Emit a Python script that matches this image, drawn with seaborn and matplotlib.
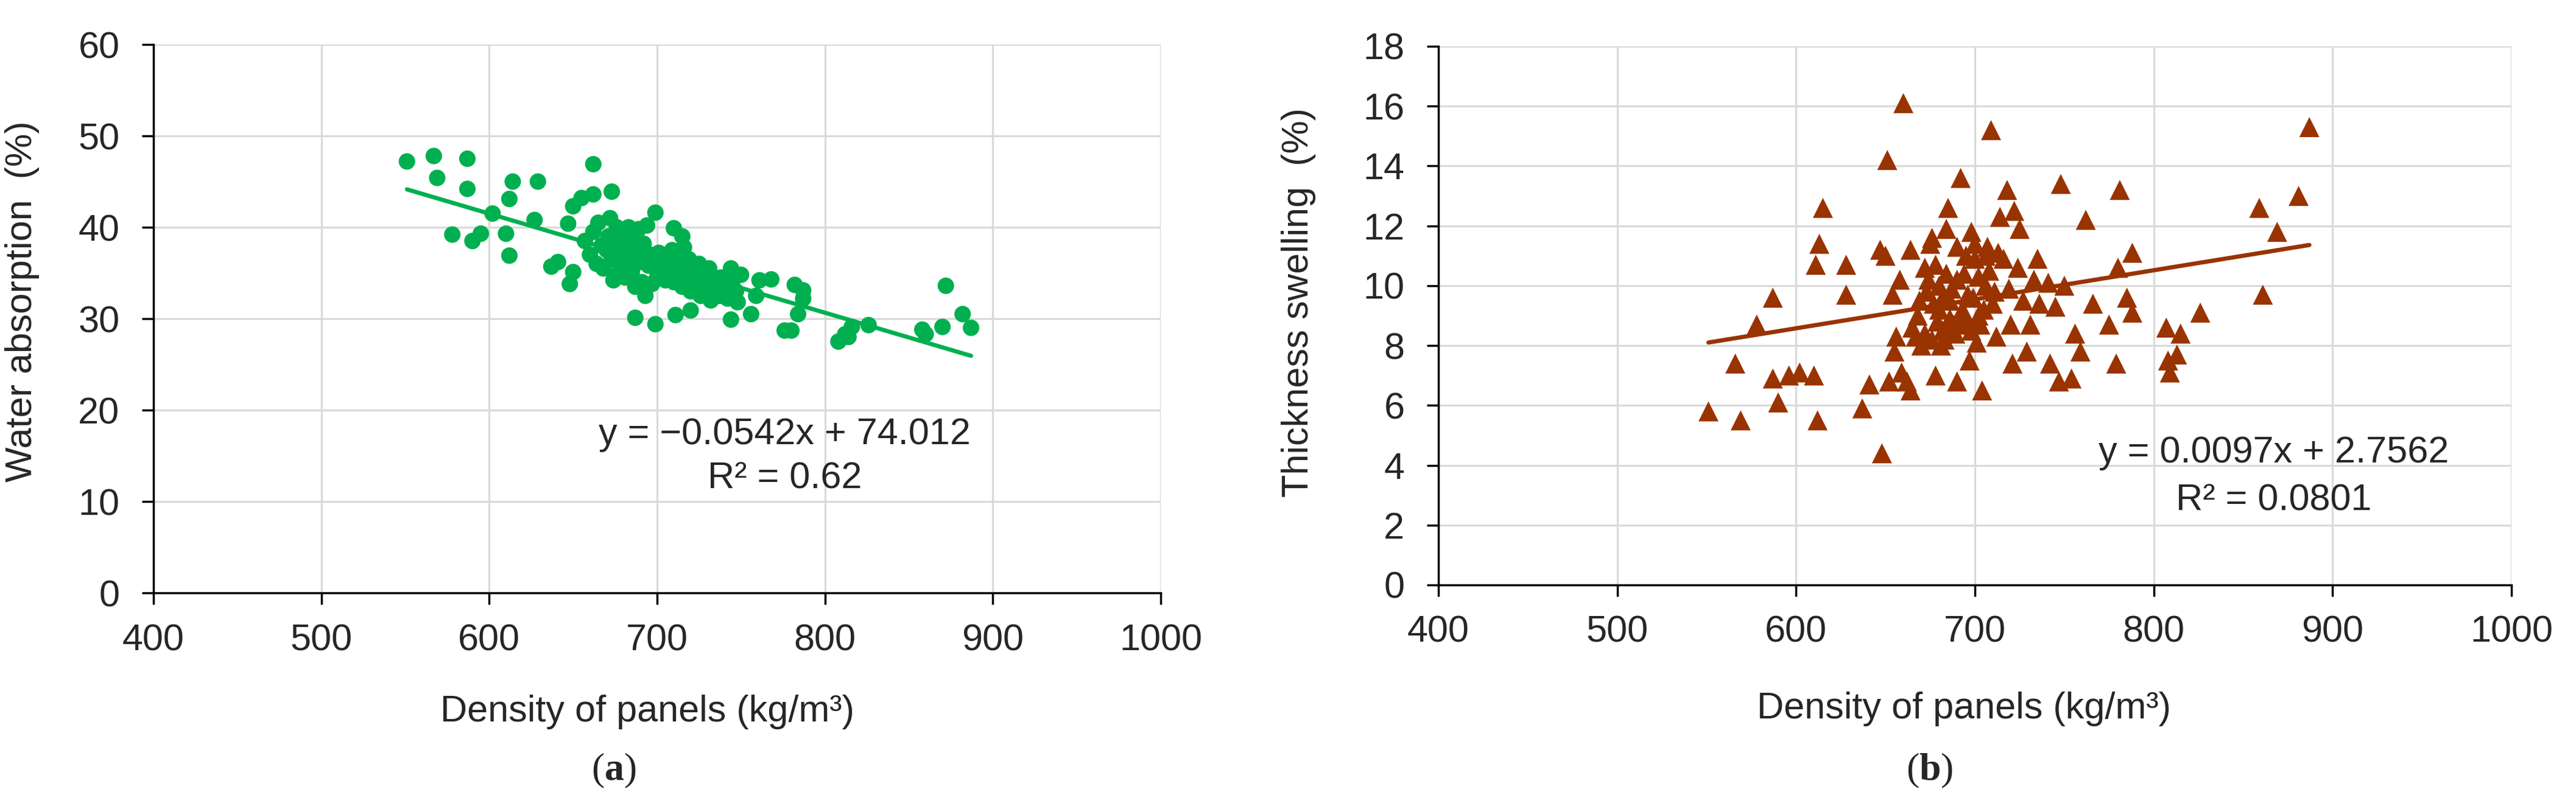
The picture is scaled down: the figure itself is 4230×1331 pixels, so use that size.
import numpy as np
import pandas as pd
import matplotlib
matplotlib.use("Agg")
import matplotlib.pyplot as plt
import seaborn as sns

# ---------------- data ----------------
wa_density = [551, 567, 569, 587, 587, 578, 590, 595, 602, 610, 612, 614, 612, 629, 627,
              637, 641, 648, 647, 650, 655, 650, 662, 662, 673, 687, 699, 699, 711, 710,
              715, 720, 744, 756, 759, 768, 761, 776, 780, 782, 787, 784, 787, 808, 812,
              814, 816, 826, 858, 860, 870, 872, 882, 887,
              657, 660, 662, 664, 665, 667, 668, 670, 671, 672, 673, 674, 675, 676, 677,
              678, 679, 680, 681, 682, 683, 684, 685, 686, 687, 688, 689, 690, 691, 692,
              693, 694, 695, 696, 697, 698, 700, 701, 702, 703, 705, 706, 708, 709, 710,
              712, 713, 715, 716, 718, 719, 720, 722, 723, 725, 726, 728, 729, 731, 732,
              734, 735, 737, 738, 740, 742, 744, 745, 747, 748, 750]
wa_value = [47.2, 47.8, 45.4, 47.5, 44.2, 39.2, 38.5, 39.3, 41.5, 39.3, 43.1, 45.0, 36.9, 45.0, 40.8,
            35.7, 36.2, 33.8, 40.4, 42.3, 43.2, 35.1, 46.9, 43.6, 43.9, 30.1, 29.4, 41.6, 30.4, 39.9,
            39.0, 30.9, 29.9, 30.5, 32.5, 34.3, 34.2, 28.7, 28.7, 33.7, 33.1, 30.5, 32.2, 27.5, 28.3,
            28.0, 29.1, 29.3, 28.8, 28.3, 29.1, 33.6, 30.5, 29.0,
            38.5, 37.0, 39.5, 36.0, 40.5, 38.0, 35.5, 37.5, 39.0, 41.0, 36.5, 34.2, 38.5, 40.0, 35.0,
            37.2, 39.5, 36.0, 34.5, 38.0, 40.0, 36.8, 35.2, 38.8, 33.5, 37.5, 39.8, 36.2, 34.0, 38.2,
            32.5, 40.2, 35.8, 37.0, 33.8, 36.5, 34.5, 37.2, 35.5, 36.8, 34.2, 36.0, 35.0, 37.5, 34.0,
            36.2, 35.2, 33.5, 37.8, 34.8, 36.5, 33.0, 35.5, 34.0, 36.0, 32.5, 34.8, 33.2, 35.5, 32.0,
            34.2, 33.0, 32.5, 34.5, 33.5, 32.2, 35.5, 34.2, 33.0, 31.8, 34.8]

ts_density = [551, 569, 566, 578, 587, 587, 590, 596, 602, 610, 612, 611, 613, 615, 628,
              628, 637, 641, 648, 647, 650, 651, 652, 654, 658, 655, 656, 660, 659, 662,
              664, 664, 667, 669, 672, 675, 676, 678, 678, 680, 681, 682, 684, 685, 686,
              688, 690, 690, 692, 693, 694, 696, 697, 698, 698, 700, 701, 702, 704, 706,
              707, 709, 710, 712, 714, 716, 718, 719, 720, 721, 722, 724, 725, 727, 729,
              731, 733, 735, 736, 741, 742, 745, 747, 748, 750, 754, 756, 759, 762, 766,
              775, 779, 780, 781, 785, 788, 788, 807, 808, 809, 813, 815, 826, 859, 861,
              869, 881, 887,
              665, 668, 670, 672, 673, 674, 676, 677, 679, 680, 682, 683, 684, 686, 687,
              689, 690, 692, 694, 695, 697, 699, 700, 702, 703, 705, 706, 708, 711, 713]
ts_value = [5.8, 5.5, 7.4, 8.7, 9.6, 6.9, 6.1, 7.0, 7.1, 7.0, 5.5, 10.7, 11.4, 12.6, 10.7,
            9.7, 5.9, 6.7, 4.4, 11.2, 11.0, 14.2, 6.8, 9.7, 10.2, 7.8, 8.3, 16.1, 7.1, 6.8,
            6.5, 11.2, 8.3, 9.5, 10.6, 11.4, 11.6, 7.0, 10.7, 9.2, 8.0, 8.5, 11.9, 12.6, 9.5,
            8.7, 6.8, 11.3, 13.6, 9.2, 10.4, 9.7, 7.5, 8.5, 11.8, 10.9, 8.1, 9.0, 6.5, 10.0,
            11.3, 15.2, 9.4, 8.3, 12.3, 10.9, 13.2, 9.9, 8.7, 7.4, 12.5, 10.6, 11.9, 9.5, 7.8,
            8.7, 10.2, 10.9, 9.4, 10.1, 7.4, 9.3, 6.8, 13.4, 10.0, 6.9, 8.4, 7.8, 12.2, 9.4,
            8.7, 7.4, 10.6, 13.2, 9.6, 9.1, 11.1, 8.6, 7.5, 7.1, 7.7, 8.4, 9.1, 12.6, 9.7,
            11.8, 13.0, 15.3,
            8.6, 9.0, 8.0, 8.4, 9.8, 10.2, 8.2, 9.4, 8.8, 10.0, 9.6, 8.2, 10.4, 8.9, 9.9,
            8.4, 10.2, 8.8, 9.0, 11.0, 8.7, 9.6, 11.4, 10.3, 8.7, 9.2, 11.0, 10.5, 9.8, 11.1]

wa_fit = [-0.0542, 74.012]   # slope, intercept
ts_fit = [0.0097, 2.7562]
wa_eq = ["y = \u22120.0542x + 74.012", "R\u00b2 = 0.62"]
ts_eq = ["y = 0.0097x + 2.7562", "R\u00b2 = 0.0801"]
x_ticks = [400, 500, 600, 700, 800, 900, 1000]
wa_ticks = [0, 10, 20, 30, 40, 50, 60]
ts_ticks = [0, 2, 4, 6, 8, 10, 12, 14, 16, 18]

GREEN = "#00B050"
BROWN = "#993300"

sns.set_theme(style="white")
plt.rcParams["font.family"] = ["Liberation Sans", "DejaVu Sans"]
plt.rcParams["mathtext.fontset"] = "custom"
plt.rcParams["mathtext.rm"] = "Liberation Serif"
plt.rcParams["mathtext.bf"] = "Liberation Serif:bold"

W, H = 4230, 1331
fig = plt.figure(figsize=(W / 100, H / 100), dpi=100)
fig.patch.set_facecolor("white")


def px_axes(x0, x1, y0, y1):
    return fig.add_axes([x0 / W, 1 - y1 / H, (x1 - x0) / W, (y1 - y0) / H])


ax1 = px_axes(252, 1906, 73, 973)
ax2 = px_axes(2362, 4124, 76, 960)

FS = 44


def style(ax, yticks, ylabel, ylc):
    ax.set_xlim(400, 1000)
    ax.set_ylim(yticks[0], yticks[-1])
    ax.set_xticks(x_ticks)
    ax.set_yticks(yticks)
    ax.grid(True, color="#D9D9D9", linewidth=2.2)
    ax.set_axisbelow(True)
    for s in ["top", "right"]:
        ax.spines[s].set_visible(False)
    for s in ["left", "bottom"]:
        ax.spines[s].set_color("black")
        ax.spines[s].set_linewidth(2.5)
    ax.tick_params(axis="both", which="major", direction="out", length=14,
                   width=2.5, color="black", labelsize=FS, left=True, bottom=True)
    ax.tick_params(axis="y", pad=26)
    ax.tick_params(axis="x", pad=22)
    ax.set_xlabel("Density of panels (kg/m\u00b3)", fontsize=FS)
    ax.set_ylabel(ylabel, fontsize=FS)
    ax.yaxis.set_label_coords(ylc[0], ylc[1])


# panel a
df1 = pd.DataFrame({"density": wa_density, "value": wa_value})
sns.scatterplot(data=df1, x="density", y="value", ax=ax1, color=GREEN, marker="o",
                s=380, edgecolor="none", linewidth=0, zorder=3)
xr1 = np.array([min(wa_density), max(wa_density)])
sns.lineplot(x=xr1, y=wa_fit[0] * xr1 + wa_fit[1], ax=ax1, color=GREEN, linewidth=5,
             zorder=4, solid_capstyle="round")
style(ax1, wa_ticks, "Water absorption  (%)", (-0.113, 0.531))
ax1.xaxis.set_label_coords(0.49, -0.186)
ax1.text(776, 17.3, wa_eq[0], fontsize=FS, ha="center", va="center")
ax1.text(776, 12.5, wa_eq[1], fontsize=FS, ha="center", va="center")

# panel b
df2 = pd.DataFrame({"density": ts_density, "value": ts_value})
sns.scatterplot(data=df2, x="density", y="value", ax=ax2, color=BROWN, marker="^",
                s=560, edgecolor="none", linewidth=0, zorder=3)
xr2 = np.array([min(ts_density), max(ts_density)])
sns.lineplot(x=xr2, y=ts_fit[0] * xr2 + ts_fit[1], ax=ax2, color=BROWN, linewidth=5,
             zorder=4, solid_capstyle="round")
style(ax2, ts_ticks, "Thickness swelling  (%)", (-0.114, 0.524))
ax2.xaxis.set_label_coords(0.49, -0.198)
ax2.text(867, 4.4, ts_eq[0], fontsize=FS, ha="center", va="center")
ax2.text(867, 2.8, ts_eq[1], fontsize=FS, ha="center", va="center")

fig.text(1008 / W, 1 - 1265 / H, r"($\mathbf{a}$)", fontsize=46, ha="center", va="center",
         family="Liberation Serif")
fig.text(3169 / W, 1 - 1265 / H, r"($\mathbf{b}$)", fontsize=46, ha="center", va="center",
         family="Liberation Serif")

fig.savefig("out.png", dpi=100, facecolor="white")
